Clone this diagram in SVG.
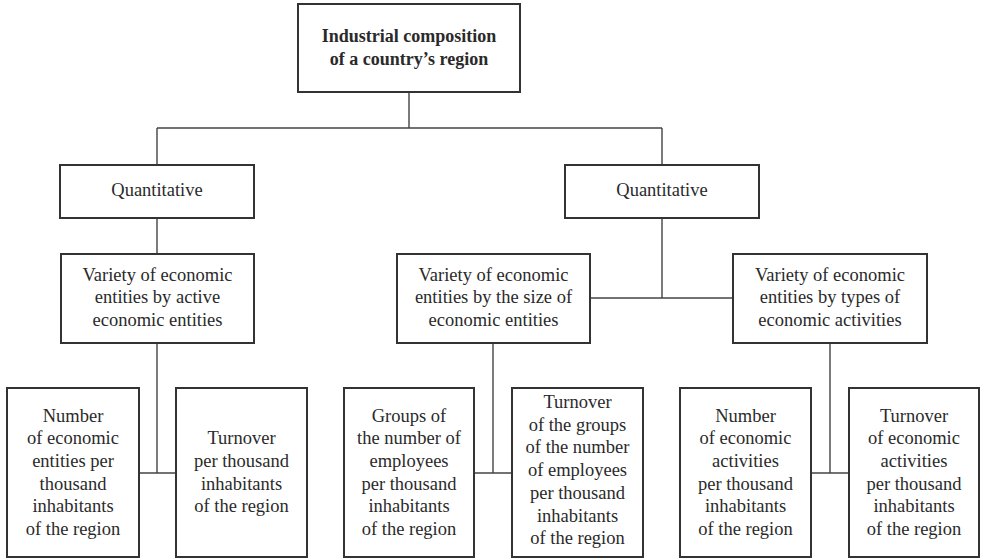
<svg xmlns="http://www.w3.org/2000/svg" width="985" height="559" viewBox="0 0 985 559">
<style>
.box{fill:#fff;stroke:#333;stroke-width:2}
.t{font-family:'Liberation Serif',serif;font-size:18.5px;fill:#2a2a2a;text-anchor:middle}
.b{font-weight:bold;font-size:18px}
.c{fill:none;stroke:#444;stroke-width:1.4}
</style>
<rect width="985" height="559" fill="#fff"/>
<g id="connectors">
<path class="c" d="M409 92V128M157 128H662M157 128V165M662 128V165M157 218V254M157 343V473M139 473H176M662 218V298M590 298H733M493 343V473M474 473H512M830 343V473M811 473H849"/>
</g>
<g id="root">
<rect class="box" x="298" y="4" width="222" height="88"/>
<text class="t b" x="409" y="42">Industrial composition</text>
<text class="t b" x="409" y="64.5">of a country’s region</text>
</g>
<g id="quant-left">
<rect class="box" x="60" y="165" width="194" height="53"/>
<text class="t" x="157" y="196">Quantitative</text>
</g>
<g id="quant-right">
<rect class="box" x="565" y="165" width="194" height="53"/>
<text class="t" x="662" y="196">Quantitative</text>
</g>
<g id="variety-active">
<rect class="box" x="61" y="254" width="193" height="89"/>
<text class="t" x="157.5" y="280.5">Variety of economic</text>
<text class="t" x="157.5" y="303">entities by active</text>
<text class="t" x="157.5" y="325.5">economic entities</text>
</g>
<g id="variety-size">
<rect class="box" x="397" y="254" width="193" height="89"/>
<text class="t" x="493.5" y="280.5">Variety of economic</text>
<text class="t" x="493.5" y="303">entities by the size of</text>
<text class="t" x="493.5" y="325.5">economic entities</text>
</g>
<g id="variety-types">
<rect class="box" x="733" y="254" width="194" height="89"/>
<text class="t" x="830" y="280.5">Variety of economic</text>
<text class="t" x="830" y="303">entities by types of</text>
<text class="t" x="830" y="325.5">economic activities</text>
</g>
<g id="number-entities">
<rect class="box" x="7" y="388" width="132" height="169"/>
<text class="t" x="73" y="421.5">Number</text>
<text class="t" x="73" y="444.2">of economic</text>
<text class="t" x="73" y="466.9">entities per</text>
<text class="t" x="73" y="489.6">thousand</text>
<text class="t" x="73" y="512.3">inhabitants</text>
<text class="t" x="73" y="535">of the region</text>
</g>
<g id="turnover-entities">
<rect class="box" x="176" y="388" width="131" height="169"/>
<text class="t" x="241.5" y="444.2">Turnover</text>
<text class="t" x="241.5" y="466.9">per thousand</text>
<text class="t" x="241.5" y="489.6">inhabitants</text>
<text class="t" x="241.5" y="512.3">of the region</text>
</g>
<g id="groups-employees">
<rect class="box" x="344" y="388" width="130" height="169"/>
<text class="t" x="409" y="421.5">Groups of</text>
<text class="t" x="409" y="444.2">the number of</text>
<text class="t" x="409" y="466.9">employees</text>
<text class="t" x="409" y="489.6">per thousand</text>
<text class="t" x="409" y="512.3">inhabitants</text>
<text class="t" x="409" y="535">of the region</text>
</g>
<g id="turnover-groups">
<rect class="box" x="512" y="388" width="131" height="169"/>
<text class="t" x="577.5" y="408">Turnover</text>
<text class="t" x="577.5" y="430.7">of the groups</text>
<text class="t" x="577.5" y="453.4">of the number</text>
<text class="t" x="577.5" y="476.1">of employees</text>
<text class="t" x="577.5" y="498.8">per thousand</text>
<text class="t" x="577.5" y="521.5">inhabitants</text>
<text class="t" x="577.5" y="544.2">of the region</text>
</g>
<g id="number-activities">
<rect class="box" x="680" y="388" width="131" height="169"/>
<text class="t" x="745.5" y="421.5">Number</text>
<text class="t" x="745.5" y="444.2">of economic</text>
<text class="t" x="745.5" y="466.9">activities</text>
<text class="t" x="745.5" y="489.6">per thousand</text>
<text class="t" x="745.5" y="512.3">inhabitants</text>
<text class="t" x="745.5" y="535">of the region</text>
</g>
<g id="turnover-activities">
<rect class="box" x="849" y="388" width="130" height="169"/>
<text class="t" x="914" y="421.5">Turnover</text>
<text class="t" x="914" y="444.2">of economic</text>
<text class="t" x="914" y="466.9">activities</text>
<text class="t" x="914" y="489.6">per thousand</text>
<text class="t" x="914" y="512.3">inhabitants</text>
<text class="t" x="914" y="535">of the region</text>
</g>
</svg>
